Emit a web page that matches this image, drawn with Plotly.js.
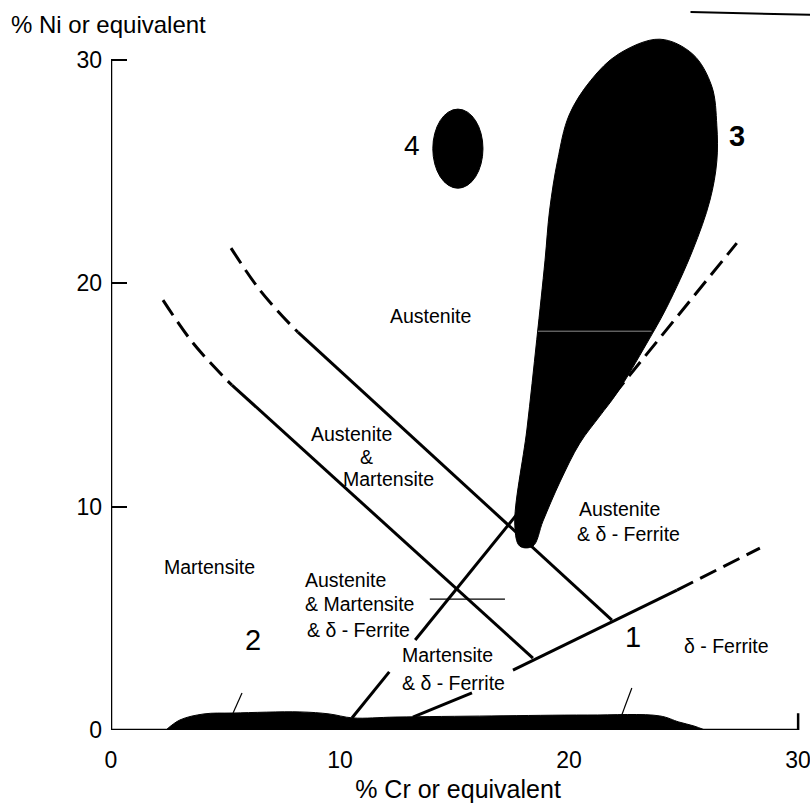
<!DOCTYPE html>
<html>
<head>
<meta charset="utf-8">
<script src="https://cdn.plot.ly/plotly-3.0.1.min.js"></script>
<style>html,body{margin:0;padding:0;background:#fff;}#chart{width:810px;height:803px;}</style>
</head>
<body>
<div id="chart"></div>
<script>
// ---------- data ----------
const xTickVals = [0, 10, 20, 30];
const yTickVals = [0, 10, 20, 30];

// region 3 (large black lobe)
const blob3X = [23.96, 25.40, 26.23, 26.45, 26.45, 26.15, 25.40, 24.27, 23.40, 22.09, 21.34, 20.47, 19.60, 18.86, 18.42, 17.85, 17.63, 18.16, 18.59, 18.95, 19.15, 19.50, 20.00, 20.95, 22.15, 23.96];
const blob3Y = [30.92, 30.25, 28.81, 27.07, 25.46, 23.71, 21.48, 18.93, 17.32, 15.08, 14.05, 12.84, 11.10, 9.35, 8.23, 8.23, 9.17, 13.47, 17.49, 21.03, 23.27, 25.50, 27.52, 29.08, 30.25, 30.92];

// region 4 (small ellipse): xmin, xmax, ymin, ymax
const blob4Box = [14.05, 16.24, 24.25, 27.79];

// black band along the Cr axis (regions 2 and 1)
const bandX = [2.40, 3.01, 4.06, 5.33, 8.25, 9.52, 10.56, 12.44, 16.63, 20.82, 23.96, 24.79, 25.45, 25.93];
const bandY = [0.00, 0.45, 0.72, 0.76, 0.81, 0.72, 0.54, 0.58, 0.63, 0.67, 0.63, 0.36, 0.18, 0.00];

// Martensite / Austenite+Martensite boundary
const lineMDashX = [2.27, 3.58, 5.06, 5.28];
const lineMDashY = [19.24, 17.32, 15.66, 15.44];
const lineMSolidX = [5.28, 18.42];
const lineMSolidY = [15.44, 3.22];

// Austenite / Austenite+Martensite boundary
const lineADashX = [5.24, 6.50, 7.94, 8.16];
const lineADashY = [21.57, 19.69, 18.03, 17.81];
const lineASolidX = [8.16, 21.87];
const lineASolidY = [17.81, 4.92];

// Austenite / Austenite+delta-ferrite boundary (through region 3)
const lineFLowX = [10.52, 12.15];
const lineFLowY = [0.54, 2.60];
const lineFSolidX = [13.28, 21.90];
const lineFSolidY = [4.03, 14.94];
const lineFDashX = [21.90, 27.32];
const lineFDashY = [14.94, 21.79];

// Martensite+delta-ferrite / delta-ferrite boundary (line 1)
const line1LowX = [13.18, 15.76];
const line1LowY = [0.58, 1.66];
const line1SolidX = [17.55, 24.71];
const line1SolidY = [2.68, 6.26];
const line1DashX = [24.71, 28.33];
const line1DashY = [6.26, 8.14];

// thin leader / marker strokes
const thinHX = [13.92, 17.20];
const thinHY = [5.86, 5.86];
const leader2X = [5.72, 5.33];
const leader2Y = [1.66, 0.76];
const leader1X = [22.74, 22.30];
const leader1Y = [1.88, 0.67];
const scanLineX = [18.64, 23.60];
const scanLineY = [17.85, 17.85];

// region labels
const labelTexts = ["Austenite", "Austenite", "&", "Martensite", "Martensite",
  "Austenite", "& Martensite", "& δ - Ferrite", "Martensite", "& δ - Ferrite",
  "Austenite", "& δ - Ferrite", "δ - Ferrite", "1", "2", "4", "3"];

// ---------- layout of labels ----------
const LS = 19.5;
const labelPlace = [
  {x: 13.97, y: 18.52, a: 'center', s: LS},
  {x: 10.48, y: 13.24, a: 'center', s: LS},
  {x: 11.17, y: 12.21, a: 'center', s: LS},
  {x: 12.13, y: 11.23, a: 'center', s: LS},
  {x: 4.28,  y: 7.29,  a: 'center', s: LS},
  {x: 8.38,  y: 6.71,  a: 'left',   s: LS},
  {x: 8.38,  y: 5.64,  a: 'left',   s: LS},
  {x: 8.45,  y: 4.47,  a: 'left',   s: LS},
  {x: 12.61, y: 3.36,  a: 'left',   s: LS},
  {x: 12.61, y: 2.10,  a: 'left',   s: LS},
  {x: 20.34, y: 9.89,  a: 'left',   s: LS},
  {x: 20.25, y: 8.77,  a: 'left',   s: LS},
  {x: 24.92, y: 3.76,  a: 'left',   s: LS},
  {x: 22.78, y: 4.16,  a: 'center', s: 29},
  {x: 6.20,  y: 4.03,  a: 'center', s: 29},
  {x: 13.14, y: 26.17, a: 'center', s: 28},
  {x: 27.32, y: 26.58, a: 'center', s: 29, b: true}
];

const FONT = 'Liberation Sans, Arial, Helvetica, sans-serif';

function seg(x, y, opts) {
  return Object.assign({
    x: x, y: y, type: 'scatter', mode: 'lines', hoverinfo: 'skip',
    line: {color: '#000', width: 3}
  }, opts || {});
}

const DASH = '18px,8px';

const traces = [
  seg(bandX, bandY, {fill: 'tozeroy', fillcolor: '#000', line: {color: '#000', width: 1, shape: 'spline'}}),
  seg(lineMDashX, lineMDashY, {line: {color: '#000', width: 3, dash: DASH, shape: 'spline'}}),
  seg(lineMSolidX, lineMSolidY),
  seg(lineADashX, lineADashY, {line: {color: '#000', width: 3, dash: DASH, shape: 'spline'}}),
  seg(lineASolidX, lineASolidY),
  seg(lineFLowX, lineFLowY),
  seg(lineFSolidX, lineFSolidY),
  seg(lineFDashX, lineFDashY, {line: {color: '#000', width: 3, dash: DASH}}),
  seg(line1LowX, line1LowY),
  seg(line1SolidX, line1SolidY),
  seg(line1DashX, line1DashY, {line: {color: '#000', width: 3, dash: DASH}}),
  seg(thinHX, thinHY, {line: {color: '#000', width: 1.2}}),
  seg(leader2X, leader2Y, {line: {color: '#000', width: 1.2}}),
  seg(leader1X, leader1Y, {line: {color: '#000', width: 1.2}}),
  seg(blob3X, blob3Y, {fill: 'toself', fillcolor: '#000', line: {color: '#000', width: 1, shape: 'spline', smoothing: 1}}),
  seg(scanLineX, scanLineY, {line: {color: '#8a8a8a', width: 1}})
];

const annotations = labelTexts.map(function (t, i) {
  const p = labelPlace[i];
  return {
    x: p.x, y: p.y, xref: 'x', yref: 'y', text: p.b ? '<b>' + t + '</b>' : t,
    showarrow: false, xanchor: p.a, yanchor: 'middle',
    font: {family: FONT, size: p.s, color: '#000'}
  };
});
annotations.push({
  x: -0.147, y: 0.999, xref: 'paper', yref: 'paper', xanchor: 'left', yanchor: 'middle',
  text: '% Ni or equivalent', showarrow: false, font: {family: FONT, size: 24, color: '#000'}
});

const shapes = [
  {type: 'circle', xref: 'x', yref: 'y', x0: blob4Box[0], x1: blob4Box[1], y0: blob4Box[2], y1: blob4Box[3],
   fillcolor: '#000', line: {color: '#000', width: 1}},
  // axis lines
  {type: 'line', xref: 'x', yref: 'y', x0: 0, x1: 0, y0: 0, y1: 30, line: {color: '#000', width: 2.5}},
  {type: 'line', xref: 'x', yref: 'y', x0: 0, x1: 30, y0: 0, y1: 0, line: {color: '#000', width: 2.5}},
  {type: 'line', xref: 'x', yref: 'y', x0: 30, x1: 30, y0: 0, y1: 0.75, line: {color: '#000', width: 2.5}},
  // scan mark at top right
  {type: 'line', xref: 'paper', yref: 'paper', x0: 0.835, x1: 1.01, y0: 1.017, y1: 1.013, line: {color: '#000', width: 2}}
];

const layout = {
  width: 810, height: 803,
  margin: {l: 111, r: 5, t: 24, b: 73},
  paper_bgcolor: '#fff', plot_bgcolor: '#fff',
  showlegend: false,
  font: {family: FONT, color: '#000'},
  xaxis: {
    range: [0, 30.3], tickvals: xTickVals, ticktext: xTickVals.map(String),
    showgrid: false, zeroline: false, showline: false, ticks: '',
    ticklabelstandoff: 14, ticklabeloverflow: 'allow',
    tickfont: {family: FONT, size: 23, color: '#000'},
    title: {text: '% Cr or equivalent', font: {family: FONT, size: 25, color: '#000'}, standoff: 36}
  },
  yaxis: {
    range: [0, 31.6], tickvals: yTickVals, ticktext: yTickVals.map(String),
    showgrid: false, zeroline: false, showline: false,
    ticks: 'inside', ticklen: 16, tickwidth: 2, tickcolor: '#000',
    ticklabelstandoff: 8,
    tickfont: {family: FONT, size: 23, color: '#000'}
  },
  annotations: annotations,
  shapes: shapes
};

Plotly.newPlot('chart', traces, layout, {staticPlot: true, displayModeBar: false});
</script>
</body>
</html>
